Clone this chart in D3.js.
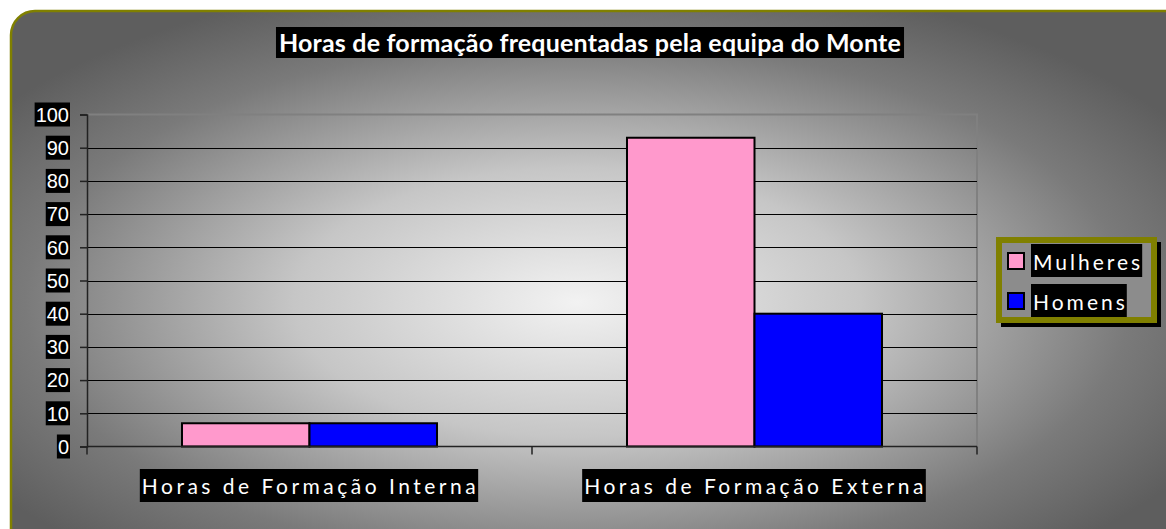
<!DOCTYPE html>
<html lang="pt">
  <head>
    <meta charset="UTF-8" />
    <title>Horas de formação</title>
    <script src="https://d3js.org/d3.v7.min.js"></script>
    <style>
      body { margin: 0; background: #fff; }
      svg { display: block; }
    </style>
  </head>
  <body>
    <script>
      const width = 1166;
      const height = 529;

      // data
      const categories = ["Horas de Formação Interna", "Horas de Formação Externa"];
      const seriesNames = ["Mulheres", "Homens"];
      const mulheres = [7, 93];
      const homens = [7, 40];
      const yTicks = [0, 10, 20, 30, 40, 50, 60, 70, 80, 90, 100];
      const colors = ["#ff99cc", "#0000ff"];

      const plot = { left: 87, right: 977, top: 114.5, bottom: 446.5 };

      const svg = d3
        .select("body")
        .append("svg")
        .attr("width", width)
        .attr("height", height);

      const defs = svg.append("defs");
      const grad = defs
        .append("radialGradient")
        .attr("id", "bg")
        .attr("cx", "48%")
        .attr("cy", "52%")
        .attr("r", "60%");
      grad.append("stop").attr("offset", "0%").attr("stop-color", "#f2f2f2");
      grad.append("stop").attr("offset", "40%").attr("stop-color", "#c6c6c6");
      grad.append("stop").attr("offset", "78%").attr("stop-color", "#7a7a7a");
      grad.append("stop").attr("offset", "100%").attr("stop-color", "#5e5e5e");

      // chart area with rounded corner, cut at right/bottom
      svg
        .append("rect")
        .attr("x", 11)
        .attr("y", 11)
        .attr("width", 1180)
        .attr("height", 560)
        .attr("rx", 24)
        .attr("fill", "url(#bg)")
        .attr("stroke", "#808000")
        .attr("stroke-width", 2.5);

      // scales
      const x0 = d3
        .scaleBand()
        .domain(categories)
        .range([plot.left, plot.right])
        .paddingInner(0)
        .paddingOuter(0);

      // gap width ~150% of a bar, split on both sides of the cluster
      const x1 = d3
        .scaleBand()
        .domain(seriesNames)
        .range([0, x0.bandwidth()])
        .paddingInner(0)
        .paddingOuter(0.745);

      const y = d3.scaleLinear().domain([0, 100]).range([plot.bottom, plot.top]);

      // plot area border (top & right)
      svg
        .append("path")
        .attr("d", `M${plot.left},${plot.top}H${plot.right}V${plot.bottom}`)
        .attr("fill", "none")
        .attr("stroke", "#808080")
        .attr("stroke-width", 2);

      // gridlines
      svg
        .append("g")
        .selectAll("line")
        .data(yTicks.filter((d) => d > 0 && d < 100))
        .join("line")
        .attr("x1", plot.left)
        .attr("x2", plot.right)
        .attr("y1", (d) => Math.round(y(d)) + 0.5)
        .attr("y2", (d) => Math.round(y(d)) + 0.5)
        .attr("stroke", "#000")
        .attr("stroke-width", 1.2);

      // bars
      const table = categories.map((c, i) => ({
        cat: c,
        vals: [mulheres[i], homens[i]],
      }));

      svg
        .append("g")
        .selectAll("g")
        .data(table)
        .join("g")
        .attr("transform", (d) => `translate(${x0(d.cat)},0)`)
        .selectAll("rect")
        .data((d) => d.vals.map((v, j) => ({ name: seriesNames[j], v, j })))
        .join("rect")
        .attr("x", (d) => x1(d.name))
        .attr("y", (d) => y(d.v))
        .attr("width", x1.bandwidth())
        .attr("height", (d) => plot.bottom - y(d.v))
        .attr("fill", (d) => colors[d.j])
        .attr("stroke", "#000")
        .attr("stroke-width", 2);

      // y axis
      const yAxis = d3
        .axisLeft(y)
        .tickValues(yTicks)
        .tickSize(7)
        .tickFormat((d) => d);
      const yg = svg
        .append("g")
        .attr("transform", `translate(${plot.left},0)`)
        .call(yAxis);
      yg.select(".domain").attr("stroke", "#222").attr("stroke-width", 1.5);
      yg.selectAll(".tick line").attr("stroke", "#222").attr("stroke-width", 1.5);
      yg.selectAll(".tick text").remove();

      // y labels with black boxes
      const yl = svg.append("g").selectAll("g").data(yTicks).join("g");
      yl.append("text")
        .attr("x", 69)
        .attr("y", (d) => y(d))
        .attr("dy", "0.36em")
        .attr("text-anchor", "end")
        .attr("font-family", "Liberation Sans, Arial, sans-serif")
        .attr("font-size", 20)
        .attr("fill", "#fff")
        .text((d) => d);
      yl.each(function (d) {
        const g = d3.select(this);
        const b = g.select("text").node().getBBox();
        g.insert("rect", "text")
          .attr("x", b.x - 1)
          .attr("y", y(d) - 12)
          .attr("width", b.width + 2)
          .attr("height", 24)
          .attr("fill", "#000");
      });

      // x axis
      const xg = svg
        .append("g")
        .attr("transform", `translate(0,${plot.bottom})`);
      xg.append("line")
        .attr("x1", plot.left)
        .attr("x2", plot.right)
        .attr("stroke", "#222")
        .attr("stroke-width", 1.5);
      xg.selectAll(".xt")
        .data([plot.left, plot.left + x0.bandwidth(), plot.right])
        .join("line")
        .attr("x1", (d) => d)
        .attr("x2", (d) => d)
        .attr("y1", 0)
        .attr("y2", 8)
        .attr("stroke", "#222")
        .attr("stroke-width", 1.5);

      // boxed text helper
      function boxedText(parent, x, yy, txt, opts) {
        const g = parent.append("g");
        const t = g
          .append("text")
          .attr("x", x)
          .attr("y", yy)
          .attr("text-anchor", opts.anchor || "middle")
          .attr("font-family", opts.family)
          .attr("font-size", opts.size)
          .attr("font-weight", opts.weight || "normal")
          .attr("letter-spacing", opts.spacing || 0)
          .attr("fill", "#fff")
          .text(txt);
        const b = t.node().getBBox();
        g.insert("rect", "text")
          .attr("x", b.x - (opts.padL || 2))
          .attr("y", yy - opts.above)
          .attr("width", b.width + (opts.padL || 2) + (opts.padR || 2))
          .attr("height", opts.boxH)
          .attr("fill", "#000");
        return g;
      }

      const xLabelFont = "Lato, Open Sans, sans-serif";
      categories.forEach((c) => {
        boxedText(svg, x0(c) + x0.bandwidth() / 2 + 1, 494, c, {
          family: xLabelFont,
          size: 21,
          spacing: 3.5,
          above: 25,
          boxH: 33,
          padL: 2,
          padR: -1,
        });
      });

      // title
      boxedText(svg, 590, 52, "Horas de formação frequentadas pela equipa do Monte", {
        family: "Lato, Open Sans, sans-serif",
        size: 25,
        weight: "bold",
        spacing: 0.2,
        above: 25,
        boxH: 31,
        padL: 3,
        padR: 3,
      });

      // legend
      const lg = svg.append("g");
      lg.append("rect")
        .attr("x", 1001)
        .attr("y", 242)
        .attr("width", 160)
        .attr("height", 85)
        .attr("fill", "#000");
      lg.append("rect")
        .attr("x", 999)
        .attr("y", 240)
        .attr("width", 155)
        .attr("height", 80)
        .attr("fill", "#8c8c8c")
        .attr("stroke", "#808000")
        .attr("stroke-width", 6);

      const items = lg
        .selectAll("g")
        .data(seriesNames)
        .join("g")
        .attr("transform", (d, i) => `translate(0,${i * 40})`);
      items
        .append("rect")
        .attr("x", 1008)
        .attr("y", 253)
        .attr("width", 16)
        .attr("height", 16)
        .attr("fill", (d, i) => colors[i])
        .attr("stroke", "#000")
        .attr("stroke-width", 2);
      items.each(function (d) {
        boxedText(d3.select(this), 1033, 270, d, {
          family: xLabelFont,
          size: 21,
          spacing: 3,
          anchor: "start",
          above: 26,
          boxH: 33,
          padL: 2,
          padR: -1,
        });
      });
    </script>
  </body>
</html>
